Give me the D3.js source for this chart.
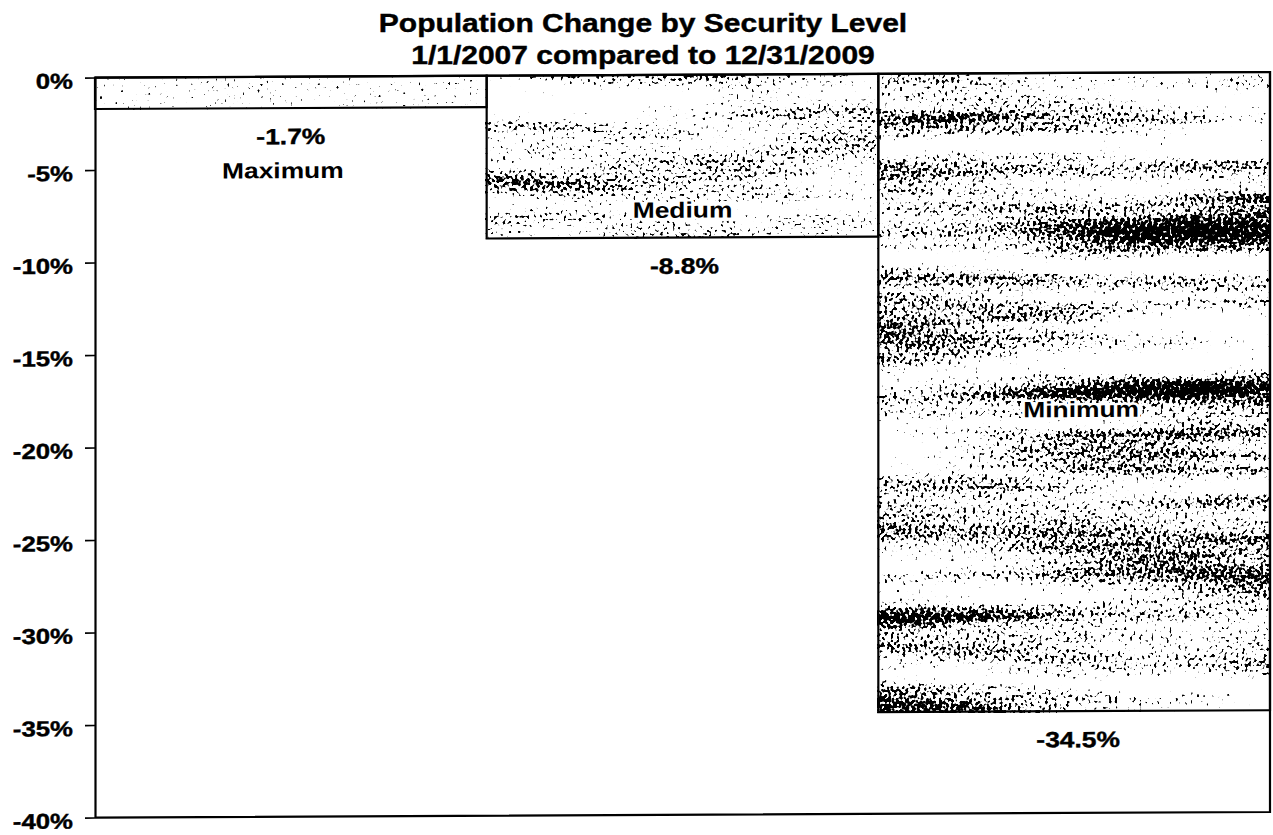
<!DOCTYPE html>
<html>
<head>
<meta charset="utf-8">
<script src="https://cdn.jsdelivr.net/npm/d3@7"></script>
<style>
  html, body { margin: 0; padding: 0; background: #fff; }
  svg { display: block; }
  text { font-family: "Liberation Sans", Arial, Helvetica, sans-serif; font-weight: bold; fill: #000; }
</style>
</head>
<body>
<svg id="chart" width="1273" height="835"></svg>
<script>
// ---- data ----
const categories  = ["Maximum", "Medium", "Minimum"];
const changePct   = [-1.7, -8.8, -34.5];
const valueLabels = ["-1.7%", "-8.8%", "-34.5%"];
const tickValues  = [0, -5, -10, -15, -20, -25, -30, -35, -40];
const tickLabels  = ["0%", "-5%", "-10%", "-15%", "-20%", "-25%", "-30%", "-35%", "-40%"];
const titleLines  = ["Population Change by Security Level", "1/1/2007 compared to 12/31/2009"];

// ---- layout ----
const W = 1273, H = 835;
const plot = { left: 95, right: 1270, top: 78, bottom: 818 };
const stretch = 1.2;             // wide bold lettering
const lineW = 2.2;

// label placement per bar: name either near the bar end or at mid-bar
const namePlace = [
  { ref: "end", dy: 70, dx: -8 },
  { ref: "end", dy: -20, dx: 0 },
  { ref: "mid", dy: 25, dx: 7 }
];
const valueDx = [0, 2, 4];

// stipple shading per bar (scan-like dotted fill)
const shading = [
  { kb: 0.0,  bx: 0.003,  by: 0.04,  grain: 0.33, thr: 0.59,  seed: 3 },
  { kb: 0.34, bx: 0.0025, by: 0.036, grain: 0.33, thr: 0.56,  seed: 8 },
  { kb: 0.4,  bx: 0.002,  by: 0.036, grain: 0.33, thr: 0.548, seed: 17 }
];

const svg = d3.select("#chart");

const x = d3.scaleBand().domain(categories).range([plot.left, plot.right]).padding(0);
const y = d3.scaleLinear().domain([-40, 0]).range([plot.bottom, plot.top]);

// ---- stipple filters ----
const defs = svg.append("defs");
shading.forEach((s, i) => {
  const f = defs.append("filter")
    .attr("id", "stipple-" + i)
    .attr("x", 0).attr("y", 0).attr("width", 1).attr("height", 1)
    .attr("color-interpolation-filters", "sRGB");
  f.append("feTurbulence")
    .attr("type", "fractalNoise")
    .attr("baseFrequency", s.bx + " " + s.by)
    .attr("numOctaves", 3).attr("seed", s.seed)
    .attr("result", "bandRaw");
  const ob = 0.25 - s.kb * 0.5;
  f.append("feColorMatrix")
    .attr("in", "bandRaw").attr("type", "matrix")
    .attr("values", `${s.kb} 0 0 0 ${ob}  ${s.kb} 0 0 0 ${ob}  ${s.kb} 0 0 0 ${ob}  0 0 0 0 1`)
    .attr("result", "band");
  f.append("feTurbulence")
    .attr("type", "fractalNoise")
    .attr("baseFrequency", s.grain)
    .attr("numOctaves", 1).attr("seed", s.seed + 31)
    .attr("result", "grainRaw");
  f.append("feColorMatrix")
    .attr("in", "grainRaw").attr("type", "matrix")
    .attr("values", "0.5 0 0 0 0  0.5 0 0 0 0  0.5 0 0 0 0  0 0 0 0 1")
    .attr("result", "grain");
  f.append("feComposite")
    .attr("in", "band").attr("in2", "grain")
    .attr("operator", "arithmetic")
    .attr("k1", 0).attr("k2", 1).attr("k3", 1).attr("k4", 0)
    .attr("result", "mix");
  const S = 30;
  f.append("feColorMatrix")
    .attr("in", "mix").attr("type", "matrix")
    .attr("values", `0 0 0 0 0  0 0 0 0 0  0 0 0 0 0  ${S} 0 0 0 ${-S * s.thr}`);
});

// ---- title ----
titleLines.forEach((t, i) => {
  svg.append("text")
    .attr("transform", `translate(643,${32 + i * 32}) scale(${stretch},1)`)
    .attr("text-anchor", "middle")
    .style("font-size", "25px")
    .style("stroke", "#000").style("stroke-width", 0.4)
    .text(t);
});

// the scanned page sits slightly tilted
const g = svg.append("g").attr("transform", "skewY(-0.27)");

// ---- bars ----
const bars = categories.map((c, i) => ({ cat: c, v: changePct[i], label: valueLabels[i], i }));

g.selectAll("rect.shade").data(bars).join("rect")
  .attr("class", "shade")
  .attr("x", d => x(d.cat))
  .attr("y", d => y(0))
  .attr("width", x.bandwidth())
  .attr("height", d => y(d.v) - y(0))
  .attr("fill", "#000")
  .attr("filter", d => `url(#stipple-${d.i})`);

g.selectAll("rect.edge").data(bars).join("rect")
  .attr("class", "edge")
  .attr("x", d => x(d.cat))
  .attr("y", d => y(0))
  .attr("width", x.bandwidth())
  .attr("height", d => y(d.v) - y(0))
  .attr("fill", "none")
  .attr("stroke", "#000")
  .attr("stroke-width", lineW);

// ---- frame (bottom and right edges) ----
g.append("path")
  .attr("d", `M${plot.left},${y(-40)}H${plot.right}V${y(0)}H${plot.left}`)
  .attr("fill", "none")
  .attr("stroke", "#000")
  .attr("stroke-width", lineW);

// ---- y axis ----
const axis = d3.axisLeft(y)
  .tickValues(tickValues)
  .tickFormat((d, i) => tickLabels[i])
  .tickSize(10)
  .tickSizeOuter(0);

const ax = g.append("g")
  .attr("transform", `translate(${plot.left},0)`)
  .call(axis);
ax.select(".domain").attr("stroke", "#000").attr("stroke-width", lineW);
ax.selectAll(".tick line").attr("stroke", "#000").attr("stroke-width", 1.6);
ax.selectAll(".tick text")
  .attr("x", -22 / stretch)
  .attr("dy", "0.49em")
  .attr("transform", `scale(${stretch},1)`)
  .style("font-size", "21.5px")
  .style("font-family", '"Liberation Sans", Arial, sans-serif')
  .style("font-weight", "bold")
  .style("stroke", "#000").style("stroke-width", 0.4)
  .attr("fill", "#000");

// ---- value labels ----
g.selectAll("text.val").data(bars).join("text")
  .attr("class", "val")
  .attr("transform", d => `translate(${x(d.cat) + x.bandwidth() / 2 + valueDx[d.i]},${y(d.v) + 36}) scale(${stretch},1)`)
  .attr("text-anchor", "middle")
  .style("font-size", "22px")
  .style("stroke", "#000").style("stroke-width", 0.4)
  .text(d => d.label);

// ---- category name labels (white halo where they sit on the shading) ----
g.selectAll("text.name").data(bars).join("text")
  .attr("class", "name")
  .attr("transform", d => {
    const p = namePlace[d.i];
    const yy = (p.ref === "end" ? y(d.v) : y(d.v / 2)) + p.dy;
    return `translate(${x(d.cat) + x.bandwidth() / 2 + p.dx},${yy}) scale(${stretch},1)`;
  })
  .attr("text-anchor", "middle")
  .style("font-size", "22px")
  .style("paint-order", "stroke")
  .style("stroke", "#fff")
  .style("stroke-width", d => (namePlace[d.i].dy < 0 || namePlace[d.i].ref === "mid" ? 5 : 0))
  .style("stroke-linejoin", "round")
  .text(d => d.cat);
</script>
</body>
</html>
